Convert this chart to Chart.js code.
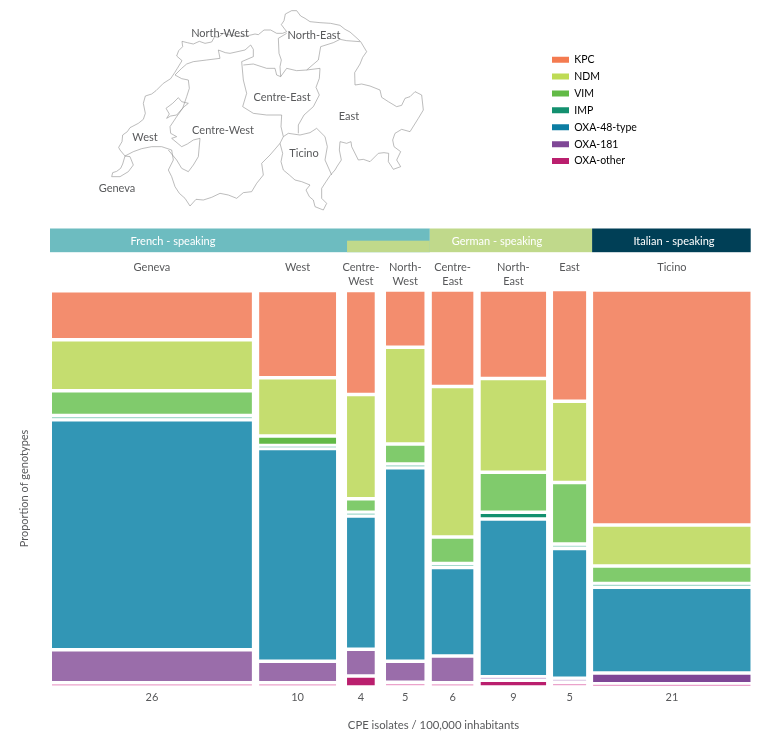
<!DOCTYPE html>
<html>
<head>
<meta charset="utf-8">
<title>CPE genotypes by region</title>
<script src="https://cdn.jsdelivr.net/npm/chart.js@4"></script>
<style>
  html, body { margin: 0; padding: 0; background: #fff; }
  #wrap { width: 783px; height: 742px; }
</style>
</head>
<body>
<div id="wrap"><canvas id="myChart" width="783" height="742"></canvas></div>
<script>
// regions, left to right
const regionLabels = [['Geneva'], ['West'], ['Centre-', 'West'], ['North-', 'West'], ['Centre-', 'East'], ['North-', 'East'], ['East'], ['Ticino']];
const isolateLabels = ['26', '10', '4', '5', '6', '9', '5', '21'];
// column widths (isolates / 100,000) and the white space left of each column
const columnWidths = [26, 10, 3.6, 5, 5.4, 8.5, 4.3, 20.5];
const columnGaps = [0, 0.95, 1.43, 1.47, 0.96, 0.96, 0.91, 0.91];

// proportion of genotypes per region, %
const genotypes = ['KPC', 'NDM', 'VIM', 'IMP', 'OXA-48-type', 'OXA-181', 'OXA-other'];
const kpc = [12.3, 22.0, 26.2, 14.4, 24.3, 22.3, 28.1, 59.2];
const ndm = [12.9, 14.7, 26.3, 24.4, 37.9, 23.6, 20.5, 10.3];
const vim = [6.2, 2.4, 3.4, 5.0, 6.7, 10.1, 15.5, 4.4];
const imp = [1.1, 0.7, 0.9, 1.0, 1.0, 1.7, 1.1, 1.0];
const oxa48 = [57.9, 53.6, 33.6, 48.7, 22.3, 39.7, 32.7, 21.6];
const oxa181 = [8.3, 5.4, 6.7, 5.3, 6.7, 0.9, 1.0, 2.7];
const oxaOther = [1.1, 1.1, 2.8, 1.2, 1.1, 1.7, 1.2, 0.8];
const seriesValues = [kpc, ndm, vim, imp, oxa48, oxa181, oxaOther];

const fullColours = ['#F47B50', '#BEDB55', '#62BA46', '#13906F', '#0C7DA2', '#7F4796', '#BA1F6E'];
const softColours = ['#F38D6E', '#C5DD6F', '#80CB6C', '#30A080', '#3296B5', '#9A6DAA', '#C0246C'];
const paleColours = ['#F9CDBD', '#E3EEB5', '#BFE5B4', '#A5DACD', '#B0DCE6', '#D9C3E2', '#EBA3CB'];

const TEXT = '#58595B';
const FONT = 'Lato';

// x positions of the columns
const columnStarts = [];
let runningX = 0;
columnWidths.forEach((w, i) => {
    runningX += columnGaps[i];
    columnStarts.push(runningX);
    runningX += w;
});
const columnCentres = columnStarts.map((s, i) => s + columnWidths[i] / 2);
const xMax = runningX;

function barColour(ctx, i) {
    const v = ctx.raw ? ctx.raw.y : 99;
    if (v < 1.3) return paleColours[i];
    if (v < 3) return fullColours[i];
    return softColours[i];
}

// stacked from the bottom, so last genotype first
const datasets = genotypes.map((name, i) => ({
    label: name,
    data: seriesValues[i].map((v, c) => ({ x: columnCentres[c], y: v })),
    backgroundColor: ctx => barColour(ctx, i),
    borderWidth: 0
})).reverse();

// bars: true widths from the x scale and a white gap between the segments
const mekkoBars = {
    id: 'mekkoBars',
    afterDatasetsUpdate(chart) {
        const xs = chart.scales.x;
        chart.getSortedVisibleDatasetMetas().forEach(meta => {
            meta.data.forEach((bar, c) => {
                bar.width = xs.getPixelForValue(columnWidths[c]) - xs.getPixelForValue(0);
                let h = bar.base - bar.y - 3.5;
                if (h < 1.2) h = 1.2;
                const mid = (bar.base + bar.y) / 2;
                bar.y = mid - h / 2;
                bar.base = mid + h / 2;
                bar.height = h;
            });
        });
    }
};

// legend sits up beside the map
const placeLegend = {
    id: 'placeLegend',
    afterLayout(chart) {
        const lg = chart.legend;
        lg.left = 545.6;
        lg.right = 748;
        lg.top = 48;
        lg.bottom = 200;
    }
};

// language bands above the columns
const bandLabels = ['French - speaking', 'German - speaking', 'Italian - speaking'];
const bandColours = ['#6DBCC0', '#C0D98B', '#003F56'];
const xTitle = 'CPE isolates / 100,000 inhabitants';
const languageBands = {
    id: 'languageBands',
    beforeDraw(chart) {
        const ctx = chart.ctx;
        const xs = chart.scales.x;
        const left = xs.getPixelForValue(0) - 2;
        const right = xs.getPixelForValue(xMax);
        const notch = xs.getPixelForValue(columnStarts[2]);
        const split = xs.getPixelForValue(columnStarts[4]) - 2;
        const italian = xs.getPixelForValue(columnStarts[7]) - 1;
        ctx.save();
        ctx.fillStyle = bandColours[0];
        ctx.fillRect(left, 228.5, split - left, 23.7);
        ctx.fillStyle = bandColours[1];
        ctx.fillRect(notch, 240.7, split - notch, 11.5);
        ctx.fillRect(split, 228.5, italian - split, 23.7);
        ctx.fillStyle = bandColours[2];
        ctx.fillRect(italian, 228.5, right - italian, 23.7);
        ctx.fillStyle = '#fff';
        ctx.font = '11px ' + FONT;
        ctx.textAlign = 'center';
        ctx.textBaseline = 'middle';
        ctx.fillText(bandLabels[0], 173, 241);
        ctx.fillText(bandLabels[1], 497, 241);
        ctx.fillText(bandLabels[2], 674, 241);
        // axis title sits off centre in the original
        ctx.fillStyle = TEXT;
        ctx.font = '11.3px ' + FONT;
        ctx.fillText(xTitle, 433.5, 725);
        ctx.restore();
    }
};

// map of the regions, traced by hand, units are 1/3 px from (80,0)
const mapOutline = [[95,530],[98,518],[110,514],[122,505],[128,492],[135,468],[120,450],[116,442],[126,425],[128,405],[142,395],[150,383],[175,370],[190,358],[196,340],[190,310],[196,288],[215,282],[228,272],[250,250],[272,236],[284,218],[292,205],[306,182],[290,168],[296,152],[308,140],[306,124],[322,128],[340,132],[358,124],[375,130],[395,126],[404,110],[415,112],[430,100],[450,105],[470,108],[500,108],[525,102],[535,104],[552,90],[572,90],[590,100],[608,100],[620,95],[604,74],[612,62],[616,42],[635,32],[650,32],[662,48],[675,55],[690,65],[720,68],[752,70],[780,76],[795,88],[810,96],[828,112],[842,125],[860,155],[848,172],[840,192],[824,218],[825,255],[845,252],[870,258],[900,270],[905,292],[925,305],[950,320],[965,316],[975,295],[990,290],[1005,275],[1025,285],[1030,330],[1015,355],[990,395],[965,388],[945,400],[938,420],[942,440],[962,455],[950,480],[962,500],[940,508],[925,485],[926,460],[912,458],[895,460],[870,485],[850,478],[835,480],[815,440],[813,425],[800,430],[780,425],[778,450],[784,480],[772,498],[765,510],[750,527],[738,545],[725,565],[725,595],[740,610],[730,630],[705,620],[700,600],[688,590],[678,570],[690,555],[665,545],[645,540],[628,525],[610,510],[603,485],[608,460],[600,430],[570,465],[545,490],[550,525],[530,550],[515,575],[490,578],[470,595],[445,585],[420,580],[395,592],[370,600],[348,598],[330,618],[315,595],[298,580],[285,560],[275,530],[265,510],[280,480],[275,450],[245,440],[215,440],[185,446],[160,455],[135,468]];
const mapBorders = [
    [[95,530],[120,530],[145,515],[160,495],[150,470],[135,468]],
    [[285,225],[305,236],[325,240],[328,265],[320,290],[308,325],[290,350],[270,380],[272,400],[290,410],[275,415],[305,440],[322,432],[340,420],[360,415],[355,470],[340,495],[325,515],[305,505],[290,480],[265,450]],
    [[258,325],[278,310],[295,293],[305,305],[325,310],[310,322],[290,345],[272,348],[260,355],[268,342],[258,325]],
    [[285,225],[305,205],[320,192],[340,185],[380,180],[420,175],[415,150],[436,158],[450,160],[495,150],[512,135],[520,148],[520,170],[485,185],[490,240],[500,280],[488,320],[520,340],[560,345],[605,345],[603,380],[610,410],[600,430]],
    [[620,100],[595,115],[597,160],[604,180],[600,200],[602,230],[590,225],[585,205],[560,205],[520,192],[490,195]],
    [[602,230],[620,205],[650,212],[680,210],[720,205],[718,235],[708,262],[718,285],[700,320],[672,345],[655,375],[655,400]],
    [[610,410],[625,400],[660,405],[690,398],[710,385],[735,410],[742,440],[735,480],[755,525]],
    [[680,210],[715,180],[722,140],[760,128],[780,118],[800,122],[840,125]]
];
const mapLabels = ['North-West', 'North-East', 'Centre-East', 'East', 'Centre-West', 'West', 'Ticino', 'Geneva'];
const mapLabelSpots = [[220, 33], [314, 35], [282, 97], [349, 116], [223, 130], [145, 137], [304, 153], [117, 188]];

const regionMap = {
    id: 'regionMap',
    beforeDraw(chart) {
        const ctx = chart.ctx;
        const trace = pts => {
            ctx.beginPath();
            pts.forEach((p, i) => {
                const px = 80 + p[0] / 3, py = p[1] / 3;
                if (i === 0) ctx.moveTo(px, py); else ctx.lineTo(px, py);
            });
            ctx.stroke();
        };
        ctx.save();
        ctx.strokeStyle = '#8f8f8f';
        ctx.lineWidth = 0.6;
        trace(mapOutline);
        mapBorders.forEach(trace);
        ctx.fillStyle = TEXT;
        ctx.font = '11px ' + FONT;
        ctx.textAlign = 'center';
        ctx.textBaseline = 'middle';
        mapLabels.forEach((t, i) => ctx.fillText(t, mapLabelSpots[i][0], mapLabelSpots[i][1]));
        ctx.restore();
    }
};

const tickFont = { family: FONT, size: 11, lineHeight: 14 / 11 };

var ctx = document.getElementById('myChart').getContext('2d');
var myChart = new Chart(ctx, {
    type: 'bar',
    data: { datasets: datasets },
    plugins: [placeLegend, mekkoBars, languageBands, regionMap],
    options: {
        responsive: false,
        animation: false,
        layout: { padding: { top: 0, left: 0, right: 32.3, bottom: 0 } },
        plugins: {
            tooltip: { enabled: false },
            legend: {
                position: 'chartArea',
                align: 'start',
                labels: {
                    boxWidth: 17,
                    boxHeight: 6,
                    padding: 6.4,
                    color: TEXT,
                    font: { family: FONT, size: 10.5 },
                    generateLabels: () => genotypes.map((name, i) => ({
                        text: name, fillStyle: fullColours[i], strokeStyle: fullColours[i], lineWidth: 0, hidden: false
                    }))
                }
            }
        },
        scales: {
            x: {
                type: 'linear',
                position: 'bottom',
                stacked: true,
                offset: false,
                min: 0,
                max: xMax,
                grid: { display: false, drawTicks: false },
                border: { display: false },
                afterBuildTicks: axis => { axis.ticks = columnCentres.map(v => ({ value: v })); },
                afterFit: axis => { axis.height = 55; },
                ticks: {
                    autoSkip: false, maxRotation: 0, minRotation: 0, padding: 3,
                    color: TEXT, font: tickFont,
                    callback: (v, i) => isolateLabels[i]
                }
            },
            xTop: {
                type: 'linear',
                position: 'top',
                min: 0,
                max: xMax,
                offset: false,
                grid: { display: false, drawTicks: false },
                border: { display: false },
                afterBuildTicks: axis => { axis.ticks = columnCentres.map(v => ({ value: v })); },
                afterFit: axis => { axis.height = 290; },
                ticks: {
                    autoSkip: false, maxRotation: 0, minRotation: 0, padding: 2,
                    crossAlign: 'far',
                    color: TEXT, font: tickFont,
                    callback: (v, i) => regionLabels[i]
                }
            },
            y: {
                stacked: true,
                min: 0,
                max: 100,
                grid: { display: false, drawTicks: false },
                border: { display: false },
                ticks: { display: false },
                afterFit: axis => { axis.width = 52; },
                title: {
                    display: true,
                    text: 'Proportion of genotypes',
                    color: TEXT,
                    font: { family: FONT, size: 11 },
                    padding: { top: 18, bottom: 0 }
                }
            }
        }
    }
});
</script>
</body>
</html>
